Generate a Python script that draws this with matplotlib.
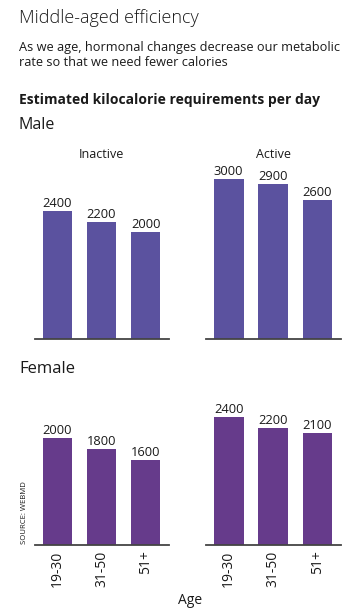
import numpy as np
import matplotlib.pyplot as plt

plt.rcParams['font.family'] = ['Open Sans', 'DejaVu Sans']

ages = ['19-30', '31-50', '51+']
male_inactive = [2400, 2200, 2000]
male_active = [3000, 2900, 2600]
female_inactive = [2000, 1800, 1600]
female_active = [2400, 2200, 2100]

male_color = '#5b529f'
female_color = '#663b8b'
ink = '#1a1a1a'

W, H = 364, 613
fig = plt.figure(figsize=(W / 100, H / 100), dpi=100)

ymax = 3400
ax_h = ymax * 0.0533  # pixel height of axes


def make_ax(x0, x1, base):
    return fig.add_axes([x0 / W, 1 - base / H, (x1 - x0) / W, ax_h / H])


panels = [
    (make_ax(35, 169, 339), male_inactive, male_color),
    (make_ax(206, 341, 339), male_active, male_color),
    (make_ax(35, 169, 545), female_inactive, female_color),
    (make_ax(206, 341, 545), female_active, female_color),
]

x = np.arange(len(ages))
for i, (ax, vals, col) in enumerate(panels):
    ax.bar(x, vals, width=0.67, color=col)
    for xi, v in zip(x, vals):
        ax.text(xi, v + 20, str(v), ha='center', va='bottom', fontsize=9.3,
                color=ink)
    ax.set_xlim(-0.51, 2.53)
    ax.set_ylim(0, ymax)
    for s in ['top', 'right', 'left']:
        ax.spines[s].set_visible(False)
    ax.spines['bottom'].set_color('#444444')
    ax.spines['bottom'].set_linewidth(1.3)
    ax.set_yticks([])
    ax.tick_params(axis='x', length=0, pad=4)
    ax.set_xticks(x)
    if i >= 2:
        ax.set_xticklabels(ages, rotation=90, fontsize=10, color=ink)
    else:
        ax.set_xticklabels([])

fig.text(19 / W, 1 - 18 / H, 'Middle-aged efficiency', fontsize=13,
         fontweight='light', va='center', color=ink)
fig.text(19 / W, 1 - 47 / H, 'As we age, hormonal changes decrease our metabolic',
         fontsize=9.2, va='center', color=ink)
fig.text(19 / W, 1 - 62 / H, 'rate so that we need fewer calories',
         fontsize=9.2, va='center', color=ink)
fig.text(19 / W, 1 - 100 / H, 'Estimated kilocalorie requirements per day',
         fontsize=10, fontweight='bold', va='center', color=ink)
fig.text(19 / W, 1 - 125 / H, 'Male', fontsize=11.5, va='center', color=ink)
fig.text(19 / W, 1 - 369 / H, 'Female', fontsize=12, va='center', color=ink)
fig.text(101 / W, 1 - 155 / H, 'Inactive', fontsize=9, ha='center', va='center',
         color=ink)
fig.text(274 / W, 1 - 155 / H, 'Active', fontsize=9, ha='center', va='center',
         color=ink)
fig.text(190 / W, 1 - 600 / H, 'Age', fontsize=10, ha='center', va='center',
         color=ink)
fig.text(24 / W, 1 - 513 / H, 'SOURCE: WEBMD', fontsize=5.6, rotation=90,
         ha='center', va='center', color=ink)

fig.savefig('out.png', dpi=100)
